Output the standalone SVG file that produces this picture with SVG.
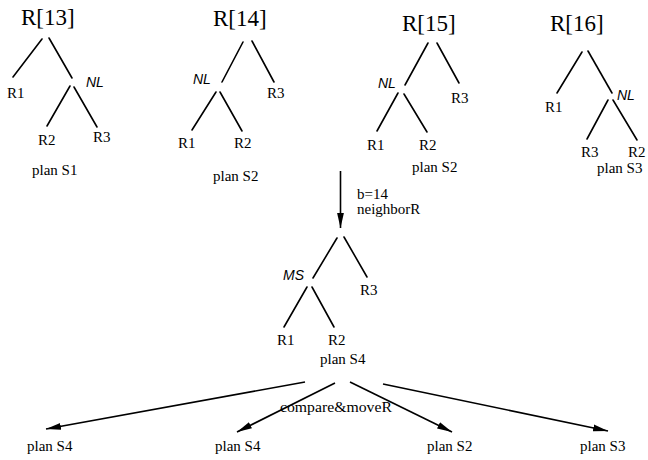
<svg xmlns="http://www.w3.org/2000/svg" width="648" height="460" viewBox="0 0 648 460">
  <style>
    .bg { fill: #ffffff; }
    .edge { stroke: #000; stroke-width: 1.6; fill: none; stroke-linecap: round; }
    .arrow { stroke: #000; stroke-width: 1.6; fill: none; marker-end: url(#head); }
    .title { font-family: "Liberation Serif", "Times New Roman", serif; font-size: 23px; fill: #000; }
    .leaf { font-family: "Liberation Serif", "Times New Roman", serif; font-size: 15px; fill: #000; }
    .op { font-family: "Liberation Sans", Arial, sans-serif; font-size: 14px; font-style: italic; fill: #000; }
  </style>
  <defs>
    <marker id="head" markerUnits="userSpaceOnUse" markerWidth="16" markerHeight="8" refX="15" refY="4" orient="auto">
      <path d="M0,0.6 L15,4 L0,7.4 z" fill="#000"/>
    </marker>
  </defs>
  <rect class="bg" width="648" height="460"/>

  <!-- plan tree for R[13] -->
  <g id="tree-r13">
    <text class="title" x="21" y="25">R[13]</text>
    <line class="edge" x1="42" y1="39" x2="13" y2="77"/>
    <line class="edge" x1="49" y1="38" x2="72" y2="78"/>
    <text class="op" x="86" y="87">NL</text>
    <text class="leaf" x="7" y="98">R1</text>
    <line class="edge" x1="70" y1="86" x2="47" y2="126"/>
    <line class="edge" x1="74" y1="87" x2="97" y2="127"/>
    <text class="leaf" x="38" y="145">R2</text>
    <text class="leaf" x="93" y="142">R3</text>
    <text class="leaf" x="32" y="175">plan S1</text>
  </g>

  <!-- plan tree for R[14] -->
  <g id="tree-r14">
    <text class="title" x="213" y="26">R[14]</text>
    <line class="edge" x1="243" y1="42" x2="222" y2="82"/>
    <line class="edge" x1="252" y1="41" x2="274" y2="82"/>
    <text class="op" x="193" y="84">NL</text>
    <text class="leaf" x="267" y="98">R3</text>
    <line class="edge" x1="216" y1="92" x2="192" y2="130"/>
    <line class="edge" x1="220" y1="92" x2="242" y2="131"/>
    <text class="leaf" x="178" y="148">R1</text>
    <text class="leaf" x="234" y="148">R2</text>
    <text class="leaf" x="213" y="181">plan S2</text>
  </g>

  <!-- plan tree for R[15] -->
  <g id="tree-r15">
    <text class="title" x="402" y="31">R[15]</text>
    <line class="edge" x1="428" y1="43" x2="405" y2="85"/>
    <line class="edge" x1="437" y1="43" x2="459" y2="83"/>
    <text class="op" x="378" y="88">NL</text>
    <text class="leaf" x="451" y="103">R3</text>
    <line class="edge" x1="398" y1="93" x2="377" y2="131"/>
    <line class="edge" x1="404" y1="94" x2="427" y2="132"/>
    <text class="leaf" x="367" y="150">R1</text>
    <text class="leaf" x="419" y="150">R2</text>
    <text class="leaf" x="412" y="172">plan S2</text>
  </g>

  <!-- plan tree for R[16] -->
  <g id="tree-r16">
    <text class="title" x="550" y="31">R[16]</text>
    <line class="edge" x1="582" y1="52" x2="557" y2="93"/>
    <line class="edge" x1="588" y1="51" x2="612" y2="93"/>
    <text class="leaf" x="545" y="112">R1</text>
    <text class="op" x="617" y="100">NL</text>
    <line class="edge" x1="608" y1="100" x2="587" y2="139"/>
    <line class="edge" x1="613" y1="100" x2="637" y2="140"/>
    <text class="leaf" x="581" y="157">R3</text>
    <text class="leaf" x="628" y="157">R2</text>
    <text class="leaf" x="597" y="173">plan S3</text>
  </g>

  <!-- neighbour plan S4 -->
  <g id="tree-s4">
    <line class="edge" x1="337" y1="238" x2="313" y2="278"/>
    <line class="edge" x1="344" y1="237" x2="367" y2="277"/>
    <text class="op" x="283" y="280">MS</text>
    <text class="leaf" x="360" y="295">R3</text>
    <line class="edge" x1="307" y1="287" x2="284" y2="327"/>
    <line class="edge" x1="312" y1="287" x2="334" y2="327"/>
    <text class="leaf" x="277" y="345">R1</text>
    <text class="leaf" x="328" y="345">R2</text>
    <text class="leaf" x="320" y="364">plan S4</text>
  </g>

  <!-- result plans -->
  <g id="result-1"><text class="leaf" x="27" y="451">plan S4</text></g>
  <g id="result-2"><text class="leaf" x="215" y="451">plan S4</text></g>
  <g id="result-3"><text class="leaf" x="427" y="451">plan S2</text></g>
  <g id="result-4"><text class="leaf" x="580" y="451">plan S3</text></g>

  <!-- connectors -->
  <g id="connectors">
    <line class="arrow" x1="340.5" y1="171" x2="340.5" y2="228"/>
    <text class="leaf" x="357" y="199">b=14</text>
    <text class="leaf" x="357" y="214">neighborR</text>
    <line class="arrow" x1="305" y1="382" x2="46" y2="429"/>
    <line class="arrow" x1="335" y1="383" x2="237" y2="432"/>
    <line class="arrow" x1="350" y1="382" x2="452" y2="432"/>
    <line class="arrow" x1="383" y1="384" x2="608" y2="431"/>
    <text class="leaf" x="280" y="412" textLength="112" lengthAdjust="spacingAndGlyphs">compare&amp;moveR</text>
  </g>
</svg>
